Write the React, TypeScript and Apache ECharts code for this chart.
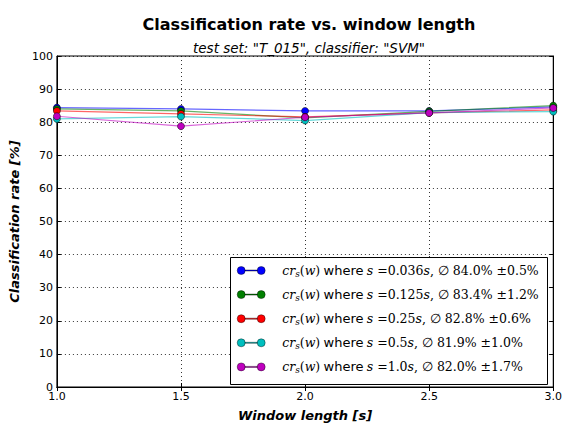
import React, { useEffect, useRef } from "react";
import * as echarts from "echarts";

const windowLengths = [1.0, 1.5, 2.0, 2.5, 3.0];
const xTicks = [1.0, 1.5, 2.0, 2.5, 3.0];
const seriesSteps = ["0.036", "0.125", "0.25", "0.5", "1.0"];
const seriesMeans = ["84.0", "83.4", "82.8", "81.9", "82.0"];
const seriesStds = ["0.5", "1.2", "0.6", "1.0", "1.7"];
const rateS0036 = [84.4, 84.0, 83.4, 83.4, 84.6];
const rateS0125 = [84.0, 83.4, 81.3, 83.3, 85.0];
const rateS025 = [83.4, 82.5, 81.6, 82.8, 83.7];
const rateS05 = [81.0, 81.7, 80.5, 82.9, 83.2];
const rateS10 = [81.8, 78.8, 81.5, 82.8, 84.3];
const seriesColors = ["#0000ff", "#008000", "#ff0000", "#00bfbf", "#bf00bf"];

const allRates = [rateS0036, rateS0125, rateS025, rateS05, rateS10];

const SANS = "DejaVu Sans";
const SERIF = "DejaVu Serif";

const legendIcon =
  "path://M0,4 A4,4 0 1 1 8,4 A4,4 0 1 1 0,4 Z M8,3.5 L20,3.5 L20,4.5 L8,4.5 Z M20,4 A4,4 0 1 1 28,4 A4,4 0 1 1 20,4 Z";

export default function App() {
  const ref = useRef<HTMLDivElement>(null);
  useEffect(() => {
    if (!ref.current) return;
    const chart = echarts.init(ref.current, undefined, { renderer: "svg" });
    const names = seriesSteps.map((s) => `s=${s}`);
    const series: any[] = allRates.map((rates, i) => ({
      name: names[i],
      type: "line",
      data: windowLengths.map((w, j) => [w, rates[j]]),
      symbol: "circle",
      symbolSize: 7,
      itemStyle: { color: seriesColors[i], borderColor: "#000", borderWidth: 0.5 },
      lineStyle: { color: seriesColors[i], width: 1.2, opacity: 0.6 },
      z: 3 + i,
      clip: false,
    }));
    const axisTick = { show: true, inside: true, length: 4, lineStyle: { color: "#000", width: 1 } };
    chart.setOption({
      animation: false,
      backgroundColor: "#fff",
      title: [
        {
          text: "Classification rate vs. window length",
          left: 304,
          textAlign: "center",
          top: 11,
          textStyle: { fontFamily: SANS, fontWeight: "bold", fontSize: 16, color: "#000" },
        },
        {
          text: 'test set: "T_015", classifier: "SVM"',
          left: 304,
          textAlign: "center",
          top: 36,
          textStyle: { fontFamily: SANS, fontStyle: "italic", fontWeight: "normal", fontSize: 13.5, color: "#000" },
        },
      ],
      grid: {
        left: 55,
        top: 56,
        width: 499,
        height: 336,
        show: true,
        borderColor: "#000",
        borderWidth: 1,
        backgroundColor: "transparent",
      },
      xAxis: [
        {
          type: "value",
          min: 1.0,
          max: 3.0,
          interval: 0.5,
          name: "Window length [s]",
          nameLocation: "middle",
          nameGap: 22,
          nameTextStyle: { fontFamily: SANS, fontWeight: "bold", fontStyle: "italic", fontSize: 13, color: "#000" },
          axisLine: { show: true, lineStyle: { color: "#000" } },
          axisTick,
          axisLabel: {
            fontFamily: SANS,
            fontSize: 11,
            color: "#000",
            margin: 4,
            formatter: (v: number) => (xTicks.includes(v) ? v.toFixed(1) : ""),
          },
          splitLine: { show: true, lineStyle: { color: "#000", type: [1, 3], width: 0.8 } },
        },
        {
          type: "value",
          position: "top",
          min: 1.0,
          max: 3.0,
          interval: 0.5,
          axisLine: { show: true, lineStyle: { color: "#000" } },
          axisTick,
          axisLabel: { show: false },
          splitLine: { show: false },
        },
      ],
      yAxis: [
        {
          type: "value",
          min: 0,
          max: 100,
          interval: 10,
          name: "Classification rate [%]",
          nameLocation: "middle",
          nameGap: 32,
          nameTextStyle: { fontFamily: SANS, fontWeight: "bold", fontStyle: "italic", fontSize: 13, color: "#000" },
          axisLine: { show: true, lineStyle: { color: "#000" } },
          axisTick,
          axisLabel: { fontFamily: SANS, fontSize: 11, color: "#000", margin: 4 },
          splitLine: { show: true, lineStyle: { color: "#000", type: [1, 3], width: 0.8 } },
        },
        {
          type: "value",
          position: "right",
          min: 0,
          max: 100,
          interval: 10,
          axisLine: { show: true, lineStyle: { color: "#000" } },
          axisTick,
          axisLabel: { show: false },
          splitLine: { show: false },
        },
      ],
      graphic: [
        {
          type: "rect",
          z: 10,
          shape: { x: 230.5, y: 257.5, width: 317, height: 127 },
          style: { fill: "#fff", stroke: "#000", lineWidth: 1 },
        },
      ],
      legend: {
        orient: "vertical",
        left: 237,
        top: 264,
        z: 20,
        padding: 0,
        itemGap: 9.6,
        itemWidth: 28,
        itemHeight: 8,
        icon: legendIcon,
        itemStyle: { borderColor: "#000", borderWidth: 0.4 },
        data: names.map((n, i) => ({ name: n, icon: legendIcon, itemStyle: { color: seriesColors[i] } })),
        formatter: (name: string) => {
          const i = names.indexOf(name);
          return (
            `{m|cr}{sub|s}{r|(}{m|w}{r|)} {t|where} {m|s}{r| =${seriesSteps[i]}}{m|s}{r|, ∅ ${seriesMeans[i]}% ±${seriesStds[i]}%}`
          );
        },
        textStyle: {
          padding: [0, 0, 0, 12],
          rich: {
            m: { fontFamily: SERIF, fontStyle: "italic", fontSize: 12.5, color: "#000", lineHeight: 16 },
            sub: { fontFamily: SERIF, fontStyle: "italic", fontSize: 9, color: "#000", verticalAlign: "bottom", padding: [5, 0, 0, 0], lineHeight: 16 },
            r: { fontFamily: SERIF, fontSize: 12.5, color: "#000", lineHeight: 16 },
            t: { fontFamily: SANS, fontSize: 13, color: "#000", lineHeight: 16 },
          },
        },
      },
      series,
    });
    return () => chart.dispose();
  }, []);
  return (
    <div
      ref={ref}
      style={{ position: "fixed", left: 0, top: 0, width: 565, height: 427 }}
    />
  );
}
